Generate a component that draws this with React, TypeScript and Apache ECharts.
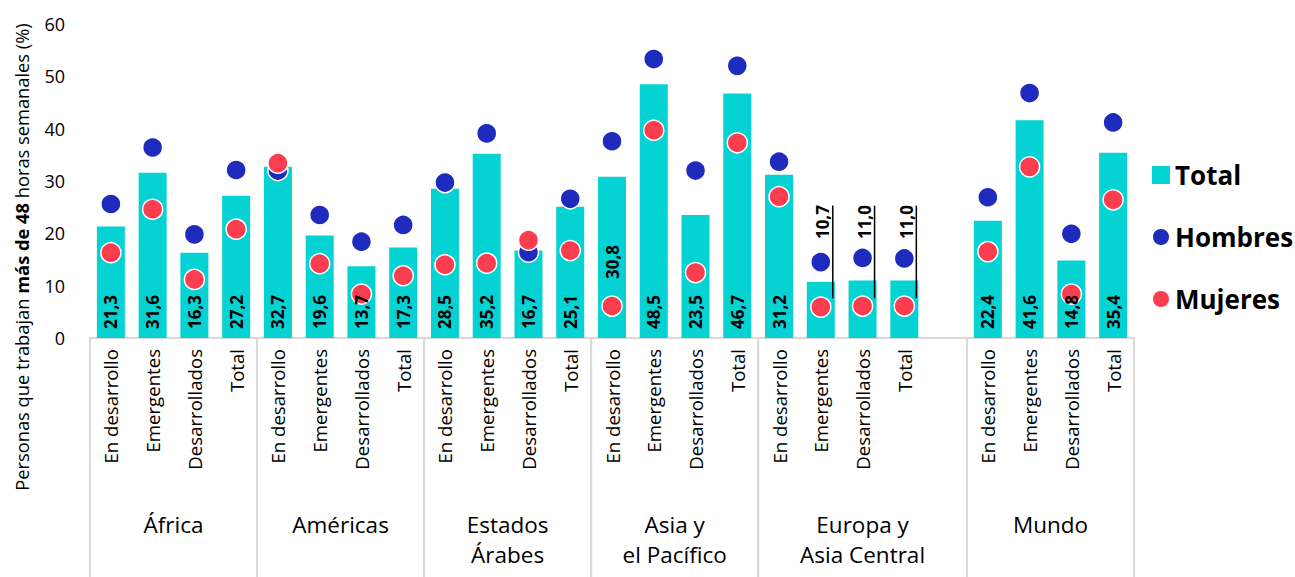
import React, { useEffect, useRef } from "react";
import * as echarts from "echarts";

const FONT = "Open Sans";

// Regions along the category axis and the four sub-groups in each one
const REGIONS = ["África", "Américas", "Estados\nÁrabes", "Asia y\nel Pacífico", "Europa y\nAsia Central", "Mundo"];
const SUBGROUPS = ["En desarrollo", "Emergentes", "Desarrollados", "Total"];
// An empty slot follows this region (index into REGIONS)
const GAP_AFTER_REGION = 4;

// Share of people working more than 48 hours a week (%), four values per region
const TOTAL = [
  21.3, 31.6, 16.3, 27.2,
  32.7, 19.6, 13.7, 17.3,
  28.5, 35.2, 16.7, 25.1,
  30.8, 48.5, 23.5, 46.7,
  31.2, 10.7, 11.0, 11.0,
  22.4, 41.6, 14.8, 35.4,
];
const HOMBRES = [
  25.6, 36.4, 19.8, 32.1,
  32.0, 23.5, 18.4, 21.6,
  29.7, 39.1, 16.4, 26.6,
  37.6, 53.3, 32.0, 52.0,
  33.7, 14.5, 15.3, 15.2,
  26.9, 46.8, 19.9, 41.2,
];
const MUJERES = [
  16.3, 24.6, 11.2, 20.8,
  33.4, 14.2, 8.4, 11.9,
  14.0, 14.3, 18.7, 16.7,
  6.1, 39.7, 12.5, 37.3,
  27.0, 5.9, 6.1, 6.1,
  16.5, 32.7, 8.4, 26.4,
];

const Y_TICKS = [0, 10, 20, 30, 40, 50, 60];

// Label placement tweaks (slot indices on the category axis)
const LIFTED_LABEL_SLOT = 12;
const LIFT_PX = 50;
const ABOVE_BAR_SLOTS = [17, 18, 19];
const ABOVE_LABEL_BASE = 18.9;
const LEADER_TOP = 25.3;
const LEADER_BOTTOM = 7.6;

const COLORS = { total: "#05d3d3", hombres: "#1f2bbd", mujeres: "#fb3d50", grid: "#d9d9d9" };

const fmt = (v: number) => v.toFixed(1).replace(".", ",");

// Build slot layout: categories, per-slot values (null in the gap) and region spans
const categories: string[] = [];
const regionSpans: number[][] = [];
const slotOf: number[] = [];
{
  let slot = 0;
  REGIONS.forEach((_, ri) => {
    const start = slot;
    SUBGROUPS.forEach((s) => {
      categories.push(s);
      slotOf.push(slot);
      slot++;
    });
    if (ri === GAP_AFTER_REGION) {
      categories.push("");
      slot++;
    }
    regionSpans.push([start, slot - 1]);
  });
}
const spread = (vals: number[]) => {
  const out: (number | null)[] = categories.map(() => null);
  vals.forEach((v, i) => (out[slotOf[i]] = v));
  return out;
};
const totalSlots = spread(TOTAL);
const hombresSlots = spread(HOMBRES);
const mujeresSlots = spread(MUJERES);

export default function App() {
  const ref = useRef<HTMLDivElement>(null);

  useEffect(() => {
    if (!ref.current) return;
    const chart = echarts.init(ref.current, undefined, { renderer: "svg" });

    const option: any = {
      animation: false,
      textStyle: { fontFamily: FONT },
      grid: { left: 90, right: 161, top: 24, bottom: 239, containLabel: false },
      legend: {
        orient: "vertical",
        left: 1146,
        top: 155,
        itemWidth: 18,
        itemHeight: 18,
        itemGap: 32,
        textStyle: { fontFamily: FONT, fontSize: 26, fontWeight: "bold", color: "#000", lineHeight: 30 },
        data: [
          { name: "Total", icon: "rect" },
          { name: "Hombres", icon: "circle" },
          { name: "Mujeres", icon: "circle" },
        ],
      },
      xAxis: {
        type: "category",
        data: categories,
        axisLine: { show: true, lineStyle: { color: COLORS.grid, width: 2 } },
        axisTick: { show: false },
        axisLabel: { interval: 0, rotate: 90, fontSize: 18.6, color: "#000", fontFamily: FONT, margin: 11 },
      },
      yAxis: {
        type: "value",
        min: Y_TICKS[0],
        max: Y_TICKS[Y_TICKS.length - 1],
        interval: Y_TICKS[1] - Y_TICKS[0],
        splitLine: { show: false },
        axisLine: { show: false },
        axisTick: { show: false },
        axisLabel: { fontSize: 18, color: "#000", fontFamily: FONT, margin: 25 },
      },
      graphic: [
        {
          type: "text",
          x: 21,
          y: 257,
          rotation: Math.PI / 2,
          style: {
            text: "{n|Personas que trabajan }{b|más de 48}{n| horas semanales (%)}",
            rich: {
              n: { fontSize: 18.3, fontFamily: FONT, fill: "#000" },
              b: { fontSize: 18.3, fontFamily: FONT, fontWeight: "bold", fill: "#000" },
            },
            align: "center",
            verticalAlign: "middle",
          },
        },
      ],
      series: [
        {
          name: "Total",
          type: "bar",
          barWidth: 28,
          barGap: "-100%",
          z: 2,
          itemStyle: { color: COLORS.total },
          data: totalSlots,
        },
        {
          name: "Hombres",
          type: "scatter",
          symbol: "circle",
          symbolSize: 20,
          z: 3,
          itemStyle: { color: COLORS.hombres, borderColor: "#fff", borderWidth: 1.5, opacity: 1 },
          data: hombresSlots,
        },
        {
          name: "Mujeres",
          type: "scatter",
          symbol: "circle",
          symbolSize: 20,
          z: 4,
          itemStyle: { color: COLORS.mujeres, borderColor: "#fff", borderWidth: 1.5, opacity: 1 },
          data: mujeresSlots,
        },
        {
          // transparent copy of the bars carrying the value labels above the dots
          name: "etiquetas",
          type: "bar",
          barWidth: 28,
          barGap: "-100%",
          z: 5,
          silent: true,
          itemStyle: { color: "rgba(0,0,0,0)" },
          label: {
            show: true,
            position: "insideBottom",
            rotate: 90,
            align: "left",
            verticalAlign: "middle",
            distance: 9,
            fontSize: 17,
            fontWeight: "bold",
            color: "#000",
            fontFamily: FONT,
            formatter: (p: any) => fmt(p.value),
          },
          // the label frame is rotated, so dx moves along the bar
          labelLayout: (p: any) => (p.dataIndex === LIFTED_LABEL_SLOT ? { dx: LIFT_PX } : {}),
          data: totalSlots.map((v, i) =>
            v == null ? null : { value: v, label: { show: !ABOVE_BAR_SLOTS.includes(i) } }
          ),
        },
        {
          // labels placed above short bars, with a leader line
          name: "etiquetas-altas",
          type: "custom",
          z: 6,
          silent: true,
          data: ABOVE_BAR_SLOTS.map((i) => [i, totalSlots[i] as number]),
          renderItem: (_params: any, api: any) => {
            const x = api.value(0);
            const v = api.value(1);
            const base = api.coord([x, ABOVE_LABEL_BASE]);
            const top = api.coord([x, LEADER_TOP]);
            const bottom = api.coord([x, LEADER_BOTTOM]);
            return {
              type: "group",
              children: [
                {
                  type: "text",
                  x: base[0] + 2,
                  y: base[1],
                  rotation: Math.PI / 2,
                  style: {
                    text: fmt(v),
                    fontSize: 17,
                    fontWeight: "bold",
                    fontFamily: FONT,
                    fill: "#000",
                    align: "left",
                    verticalAlign: "middle",
                  },
                },
                {
                  type: "line",
                  shape: { x1: base[0] + 12, y1: top[1], x2: base[0] + 12, y2: bottom[1] },
                  style: { stroke: "#000", lineWidth: 1.5 },
                },
              ],
            };
          },
        },
        {
          // region separators and region names under the axis
          name: "regiones",
          type: "custom",
          silent: true,
          clip: false,
          data: regionSpans,
          renderItem: (params: any, api: any) => {
            const s = api.value(0);
            const e = api.value(1);
            const w = api.size([1, 0])[0];
            const a = api.coord([s, 0]);
            const b = api.coord([e, 0]);
            const left = a[0] - w / 2;
            const right = b[0] + w / 2;
            const y0 = a[1];
            const lineStyle = { stroke: COLORS.grid, lineWidth: 2 };
            return {
              type: "group",
              children: [
                { type: "line", shape: { x1: left, y1: y0, x2: left, y2: y0 + 245 }, style: lineStyle },
                { type: "line", shape: { x1: right, y1: y0, x2: right, y2: y0 + 245 }, style: lineStyle },
                {
                  type: "text",
                  x: (left + right) / 2,
                  y: y0 + 171,
                  style: {
                    text: REGIONS[params.dataIndex],
                    fontSize: 22.5,
                    fontFamily: FONT,
                    fill: "#000",
                    align: "center",
                    verticalAlign: "top",
                    lineHeight: 30,
                  },
                },
              ],
            };
          },
        },
      ],
    };

    chart.setOption(option);
    return () => chart.dispose();
  }, []);

  return (
    <div
      ref={ref}
      style={{ position: "fixed", left: 0, top: 0, width: 1295, height: 577, background: "#fff" }}
    />
  );
}
